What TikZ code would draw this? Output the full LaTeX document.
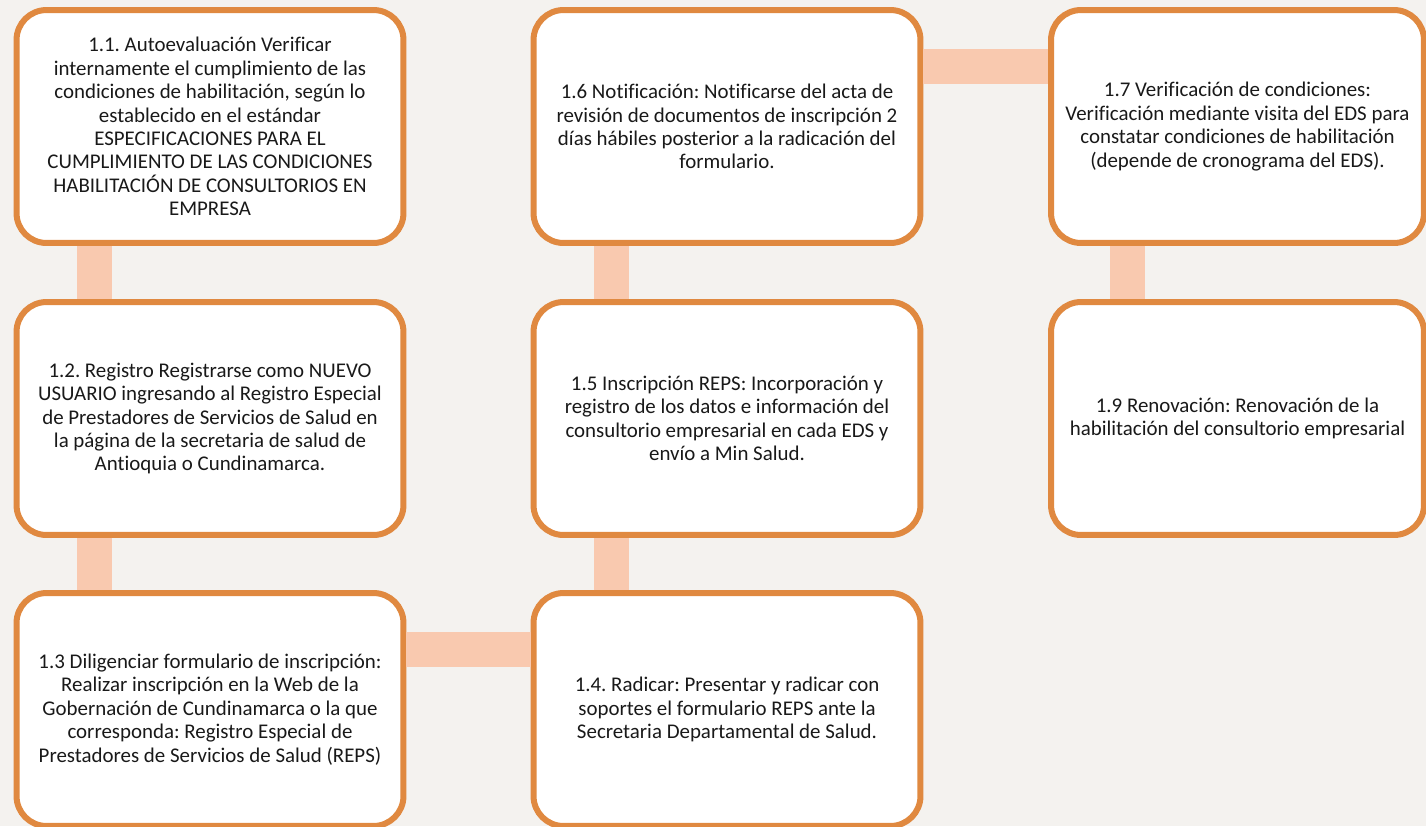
\documentclass[tikz,border=0pt]{standalone}
\usepackage{fontspec}
\setmainfont{Carlito}[Ligatures={NoCommon}]
\usepackage{tikz}
\usetikzlibrary{calc}
\definecolor{boxline}{RGB}{224,137,64}
\definecolor{linkfill}{RGB}{249,201,175}
\definecolor{pagebg}{RGB}{244,242,239}
\definecolor{txt}{RGB}{25,25,25}
\frenchspacing

\begin{document}
\begin{tikzpicture}[x=0.02cm,y=-0.02cm]
\tikzstyle{stepbox}=[draw=boxline,fill=white,line width=0.12cm,rounded corners=0.6cm,
  minimum width=7.74cm,minimum height=4.66cm,align=center,text=txt,
  font=\fontsize{11.9}{13.3}\selectfont,inner sep=0pt]
\tikzstyle{link}=[linkfill,line width=0.7cm]
\fill [pagebg] (0,0) rectangle (1426,826);
\useasboundingbox (0,0) rectangle (1426,826);
\node [stepbox] (n11) at (210,126.5) {1.1. Autoevaluación Verificar\\internamente el cumplimiento de las\\condiciones de habilitación, según lo\\establecido en el estándar\\ESPECIFICACIONES PARA EL\\CUMPLIMIENTO DE LAS CONDICIONES\\HABILITACIÓN DE CONSULTORIOS EN\\EMPRESA};
\node [stepbox] (n12) at (210,418.5) {1.2. Registro Registrarse como NUEVO\\USUARIO ingresando al Registro Especial\\de Prestadores de Servicios de Salud en\\la página de la secretaria de salud de\\Antioquia o Cundinamarca.};
\node [stepbox] (n13) at (210,709.5) {1.3 Diligenciar formulario de inscripción:\\Realizar inscripción en la Web de la\\Gobernación de Cundinamarca o la que\\corresponda: Registro Especial de\\Prestadores de Servicios de Salud (REPS)};
\node [stepbox] (n14) at (727,709.5) {1.4. Radicar: Presentar y radicar con\\soportes el formulario REPS ante la\\Secretaria Departamental de Salud.};
\node [stepbox] (n15) at (727,418.5) {1.5 Inscripción REPS: Incorporación y\\registro de los datos e información del\\consultorio empresarial en cada EDS y\\envío a Min Salud.};
\node [stepbox] (n16) at (727,126.5) {1.6 Notificación: Notificarse del acta de\\revisión de documentos de inscripción 2\\días hábiles posterior a la radicación del\\formulario.};
\node [stepbox,minimum width=7.46cm] (n17) at (1237.5,126.5) {1.7 Verificación de condiciones:\\Verificación mediante visita del EDS para\\constatar condiciones de habilitación\\(depende de cronograma del EDS).};
\node [stepbox,minimum width=7.46cm] (n19) at (1237.5,418.5) {1.9 Renovación: Renovación de la\\habilitación del consultorio empresarial};
\draw [link] ($(n11.south)+(-115.5,0)$) -- ($(n12.north)+(-115.5,0)$);
\draw [link] ($(n12.south)+(-115.5,0)$) -- ($(n13.north)+(-115.5,0)$);
\draw [link] ($(n13.east)+(0,-60)$) -- ($(n14.west)+(0,-60)$);
\draw [link] ($(n14.north)+(-115.5,0)$) -- ($(n15.south)+(-115.5,0)$);
\draw [link] ($(n15.north)+(-115.5,0)$) -- ($(n16.south)+(-115.5,0)$);
\draw [link] ($(n16.east)+(0,-60)$) -- ($(n17.west)+(0,-60)$);
\draw [link] ($(n17.south)+(-110,0)$) -- ($(n19.north)+(-110,0)$);
\end{tikzpicture}
\end{document}
